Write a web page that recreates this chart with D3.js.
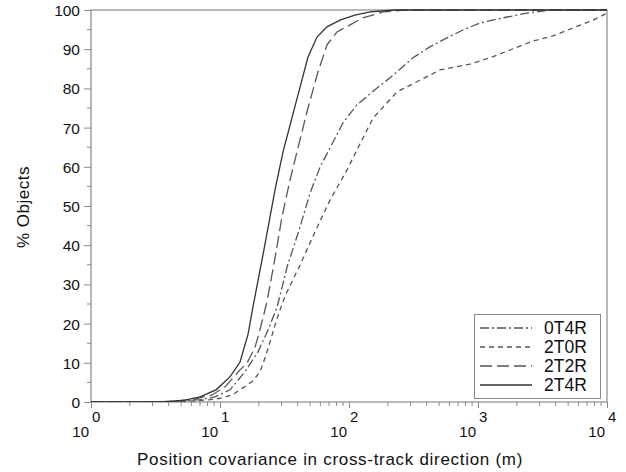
<!DOCTYPE html>
<html>
<head>
<meta charset="utf-8">
<script src="https://cdn.jsdelivr.net/npm/d3@7"></script>
<style>
  html, body { margin: 0; padding: 0; background: #fff; }
  svg { display: block; }
  text { font-family: "Liberation Sans", Arial, sans-serif; fill: #111; }
</style>
</head>
<body>
<svg id="chart" width="626" height="472"></svg>
<script>
// Cumulative share of objects (%) vs. cross-track position covariance (m)
const seriesNames = ["0T4R", "2T0R", "2T2R", "2T4R"];

const covariance0T4R = [1, 2.87, 4.9, 7.0, 9.15, 11.95, 15.6, 19.7, 23.6, 27.7, 33.1, 41.7, 49.9, 59.6, 71.2, 89.8, 115, 165, 208, 313, 424, 575, 765, 1037, 1563, 2399, 3615, 10000];
const percent0T4R    = [0, 0, 0.2, 0.6, 1.3, 3.1, 7.7, 12.8, 18.4, 24.2, 34.4, 44.6, 53.3, 59.9, 64.8, 71.2, 75.8, 80.1, 82.7, 87.8, 90.6, 92.9, 94.9, 96.7, 98.0, 99.2, 100, 100];

const covariance2T0R = [1, 3.43, 5.85, 8.37, 10.36, 12.39, 15.08, 18.03, 20.42, 22.34, 24.42, 26.69, 29.18, 31.9, 41.7, 54.5, 71.2, 96.5, 115.3, 153.5, 235.5, 355, 507, 867, 1239, 1770, 2668, 3811, 5450, 7788, 10000];
const percent2T0R    = [0, 0, 0.2, 0.6, 1.0, 1.8, 3.6, 5.4, 7.7, 11.2, 15.3, 19.6, 23.5, 27.0, 34.9, 43.4, 51.5, 59.2, 64.3, 72.4, 79.1, 82.1, 84.7, 86.2, 87.8, 89.8, 92.1, 93.4, 95.4, 97.4, 99.2];

const covariance2T2R = [1, 2.87, 4.48, 6.4, 8.67, 10.9, 14.3, 16.2, 18.7, 20.4, 23.1, 26.7, 30.2, 34.9, 39.5, 47.2, 57.5, 67.5, 80.7, 102, 128, 184, 272, 10000];
const percent2T2R    = [0, 0, 0.2, 0.8, 1.8, 3.8, 8.2, 9.9, 14.0, 18.4, 25.5, 36.7, 47.2, 56.6, 63.8, 74.0, 84.2, 91.1, 94.4, 96.2, 98.0, 99.5, 100, 100];

const covariance2T4R = [1, 2.4, 3.75, 5.35, 7.0, 9.31, 11.95, 14.3, 16.5, 18.0, 21.9, 26.7, 30.8, 40.2, 48.1, 56.5, 67.5, 85.1, 111, 146, 227, 10000];
const percent2T4R    = [0, 0, 0.1, 0.5, 1.3, 3.1, 6.4, 10.2, 17.3, 24.2, 38.8, 54.1, 63.8, 78.3, 88.0, 93.1, 95.7, 97.4, 98.7, 99.5, 100, 100];

const xDecades = [0, 1, 2, 3, 4];
const yTicks = [0, 10, 20, 30, 40, 50, 60, 70, 80, 90, 100];
const xTitle = "Position covariance in cross-track direction (m)";
const yTitle = "% Objects";

const series = [
  { name: seriesNames[0], x: covariance0T4R, y: percent0T4R, dash: "9,3,2,3" },
  { name: seriesNames[1], x: covariance2T0R, y: percent2T0R, dash: "5,4" },
  { name: seriesNames[2], x: covariance2T2R, y: percent2T2R, dash: "12,5" },
  { name: seriesNames[3], x: covariance2T4R, y: percent2T4R, dash: null }
];

const svg = d3.select("#chart");
const plot = { left: 91, right: 607, top: 10, bottom: 402 };

const x = d3.scaleLog().domain([1, 1e4]).range([plot.left, plot.right]);
const y = d3.scaleLinear().domain([0, 100]).range([plot.bottom, plot.top]);

const frameColor = "#8a8a8a";

// y axis: major ticks every 10, minor every 5
const yAxis = d3.axisLeft(y).tickValues(yTicks).tickSize(7).tickPadding(4).tickFormat(d3.format("d"));
const gy = svg.append("g").attr("transform", `translate(${plot.left},0)`).call(yAxis);
gy.select(".domain").remove();
gy.selectAll(".tick line").attr("stroke", frameColor);
gy.selectAll(".tick text").style("font-size", "15.5px").style("font-family", "Liberation Sans, Arial, sans-serif").attr("fill", "#111").attr("dy", "0.36em");

const yMinor = d3.range(5, 100, 10);
svg.append("g").selectAll("line").data(yMinor).join("line")
  .attr("x1", plot.left - 4).attr("x2", plot.left)
  .attr("y1", d => y(d)).attr("y2", d => y(d))
  .attr("stroke", frameColor);

// x axis: decades with log minor ticks
const xMajor = xDecades.map(e => Math.pow(10, e));
const xMinor = [];
for (let e = 0; e < 4; e++) for (let k = 2; k <= 9; k++) xMinor.push(k * Math.pow(10, e));

const xAxis = d3.axisBottom(x).tickValues(xMajor).tickSize(6).tickFormat("");
const gx = svg.append("g").attr("transform", `translate(0,${plot.bottom})`).call(xAxis);
gx.select(".domain").remove();
gx.selectAll(".tick line").attr("stroke", frameColor);

svg.append("g").selectAll("line").data(xMinor).join("line")
  .attr("x1", d => x(d)).attr("x2", d => x(d))
  .attr("y1", plot.bottom).attr("y2", plot.bottom + 4)
  .attr("stroke", frameColor);

// decade labels: "10" with raised exponent
const xl = svg.append("g").selectAll("g").data(xDecades).join("g")
  .attr("transform", e => `translate(${x(Math.pow(10, e))},0)`);
xl.append("text").attr("x", -2).attr("y", 437).attr("text-anchor", "end")
  .style("font-size", "15px").text("10");
xl.append("text").attr("x", 1).attr("y", 422).attr("text-anchor", "start")
  .style("font-size", "15px").text(e => e);

// plot frame
svg.append("rect").attr("x", plot.left).attr("y", plot.top)
  .attr("width", plot.right - plot.left).attr("height", plot.bottom - plot.top)
  .attr("fill", "none").attr("stroke", frameColor).attr("stroke-width", 1.2);

// curves, clipped to the plot area
svg.append("clipPath").attr("id", "plotclip")
  .append("rect").attr("x", plot.left).attr("y", plot.top - 1)
  .attr("width", plot.right - plot.left).attr("height", plot.bottom - plot.top + 1);

const line = d3.line().x(d => x(d[0])).y(d => y(d[1]));
svg.append("g").attr("clip-path", "url(#plotclip)").selectAll("path").data(series).join("path")
  .attr("d", s => line(s.x.map((v, i) => [v, s.y[i]])))
  .attr("fill", "none")
  .attr("stroke", s => s.dash ? "#555" : "#333")
  .attr("stroke-width", 1.3)
  .attr("stroke-dasharray", s => s.dash);

// legend
const lg = svg.append("g");
lg.append("rect").attr("x", 474.5).attr("y", 314.5).attr("width", 126).attr("height", 84)
  .attr("fill", "#fff").attr("stroke", frameColor).attr("stroke-width", 1);
const rows = lg.selectAll("g.row").data(series).join("g").attr("class", "row")
  .attr("transform", (s, i) => `translate(0,${328 + i * 19})`);
rows.append("line").attr("x1", 480).attr("x2", 532).attr("y1", 0).attr("y2", 0)
  .attr("stroke", s => s.dash ? "#555" : "#333").attr("stroke-width", 1.3)
  .attr("stroke-dasharray", s => s.dash);
rows.append("text").attr("x", 544).attr("y", 0).attr("dy", "0.36em")
  .style("font-size", "17.5px").text(s => s.name);

// axis titles
svg.append("text").attr("x", 330).attr("y", 465).attr("text-anchor", "middle")
  .style("font-size", "17px").style("letter-spacing", "0.7px").text(xTitle);
svg.append("text").attr("transform", "translate(29,207) rotate(-90)")
  .attr("text-anchor", "middle").style("font-size", "17px").style("letter-spacing", "0.5px").text(yTitle);
</script>
</body>
</html>
